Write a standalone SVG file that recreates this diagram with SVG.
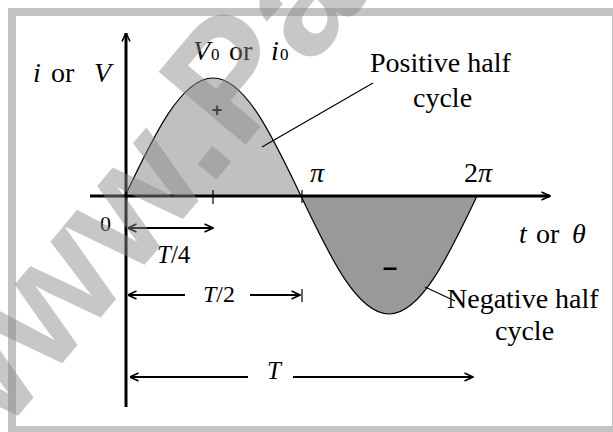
<svg xmlns="http://www.w3.org/2000/svg" width="613" height="432" viewBox="0 0 613 432">
<style>
text{font-family:"Liberation Serif","Times New Roman",serif;fill:#000;}
.lbl{font-size:28px;}
.it{font-style:italic;}
.axis{stroke:#000;stroke-width:3;fill:none;}
.dim{stroke:#000;stroke-width:2;fill:none;}
.thin{stroke:#000;stroke-width:1.2;fill:none;}
.wm{font-family:"Liberation Sans",Arial,sans-serif;font-weight:bold;font-size:165px;fill:#898989;fill-opacity:0.47;}
</style>
<defs>
<marker id="ah" viewBox="0 0 10 10" refX="9.5" refY="5" markerWidth="10" markerHeight="10" markerUnits="userSpaceOnUse" orient="auto-start-reverse">
<path d="M1,1 L9.5,5 L1,9" fill="none" stroke="#000" stroke-width="1.6"/>
</marker>
</defs>
<rect x="0" y="0" width="613" height="432" fill="#fff"/>
<rect x="12" y="12" width="604" height="418" fill="none" stroke="#c3c3c3" stroke-width="8"/>

<g id="positive-half">
<path d="M125,196 C153.7,135.6 181.15,78 213,78 C244.85,78 272.3,135.6 301,196 Z" fill="#c0c0c0" stroke="none"/>
</g>
<g id="negative-half">
<path d="M301,196 C329.7,256.4 357.15,314 389,314 C420.85,314 448.3,256.4 477,196 Z" fill="#999" stroke="none"/>
</g>
<g id="curve">
<path class="thin" d="M125,196 C153.7,135.6 181.15,78 213,78 C244.85,78 272.3,135.6 301,196 C329.7,256.4 357.15,314 389,314 C420.85,314 448.3,256.4 477,196"/>
</g>

<g id="connectors">
<line class="axis" x1="126" y1="407" x2="126" y2="33" marker-end="url(#ah)"/>
<line class="axis" x1="90" y1="196" x2="550" y2="196" marker-end="url(#ah)"/>
<line class="thin" x1="213" y1="190" x2="213" y2="204" stroke-width="1.5"/>
<line class="thin" x1="302" y1="190" x2="302" y2="203" stroke-width="1.5"/>
<line class="dim" x1="128" y1="228" x2="213" y2="228" marker-start="url(#ah)" marker-end="url(#ah)"/>
<line class="dim" x1="128" y1="295" x2="185" y2="295" marker-start="url(#ah)"/>
<line class="dim" x1="250" y1="295" x2="300" y2="295" marker-end="url(#ah)"/>
<line class="thin" x1="302" y1="289" x2="302" y2="302" stroke-width="1.2"/>
<line class="dim" x1="130" y1="377" x2="248" y2="377" marker-start="url(#ah)"/>
<line class="dim" x1="293" y1="377" x2="473" y2="377" marker-end="url(#ah)"/>
<line class="thin" x1="262" y1="147" x2="373" y2="83" stroke-width="1"/>
<line class="thin" x1="425" y1="287" x2="455" y2="301" stroke-width="1"/>
</g>

<g id="labels">
<text class="lbl it" x="33" y="82">i</text>
<text class="lbl" x="51" y="82">or</text>
<text class="lbl it" x="94" y="82">V</text>
<text class="lbl it" x="193" y="60">V</text>
<text x="211" y="60" font-size="17">0</text>
<text class="lbl" x="229" y="60">or</text>
<text class="lbl it" x="271" y="60">i</text>
<text x="280" y="60" font-size="17">0</text>
<text class="lbl" x="370" y="72">Positive half</text>
<text class="lbl" x="413" y="107">cycle</text>
<text x="217" y="116" font-size="18" text-anchor="middle" style="font-family:'Liberation Sans',Arial,sans-serif;font-weight:bold">+</text>
<text class="lbl it" x="310" y="182">π</text>
<text class="lbl" x="464" y="182">2<tspan class="it">π</tspan></text>
<text x="100" y="231" font-size="22">0</text>
<text x="157" y="263" font-size="25"><tspan class="it">T</tspan>/4</text>
<text x="203" y="302" font-size="24"><tspan class="it">T</tspan>/2</text>
<text class="it" x="267" y="379" font-size="25">T</text>
<text class="lbl it" x="519" y="243">t</text>
<text class="lbl" x="536" y="243">or</text>
<text class="lbl it" x="572" y="243">θ</text>
<text x="390" y="276" font-size="26" text-anchor="middle" style="font-family:'Liberation Sans',Arial,sans-serif;font-weight:bold">–</text>
<text class="lbl" x="447" y="308">Negative half</text>
<text class="lbl" x="495" y="340">cycle</text>
</g>

<g id="watermark">
<text class="wm" transform="translate(-34.5,478.5) rotate(-50)">www.Pa</text>
</g>
</svg>
